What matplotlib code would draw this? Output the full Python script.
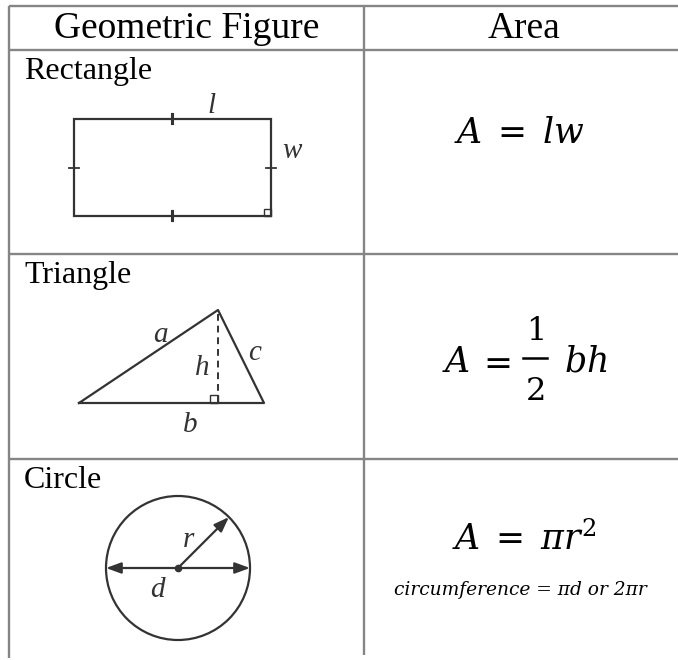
import matplotlib
matplotlib.use("Agg")
import matplotlib.pyplot as plt
from matplotlib.patches import Circle, Rectangle, FancyArrowPatch

plt.rcParams["mathtext.fontset"] = "dejavuserif"

# table layout (pixel grid of the page)
col_x = [9, 364]
row_y = [6, 50, 254, 459]
headers = ["Geometric Figure", "Area"]
row_names = ["Rectangle", "Triangle", "Circle"]
note = "circumference = πd or 2πr"

# rectangle figure
rect_xy = (74, 119)
rect_wh = (197, 97)
# triangle figure
tri_x = [79, 218, 264, 79]
tri_y = [403, 310, 403, 403]
# circle figure
circ_c = (178, 568)
circ_r = 72

# side labels: (text, x, baseline y)
labels = [("l", 212, 113), ("w", 292, 158),
          ("a", 160, 342), ("h", 202, 375), ("c", 255, 360), ("b", 190, 432),
          ("r", 188, 547), ("d", 157, 597)]

W, H = 678, 660
fig = plt.figure(figsize=(W / 100, H / 100), dpi=100)
ax = fig.add_axes([0, 0, 1, 1])
ax.set_xlim(0, W); ax.set_ylim(H, 0); ax.axis("off")

grid = dict(color="#858585", lw=1.7, solid_capstyle="butt")
for y in row_y:
    ax.plot([col_x[0], W], [y, y], **grid)
ax.plot([col_x[0], col_x[0]], [row_y[0], 658], **grid)
ax.plot([col_x[1], col_x[1]], [row_y[0], 655], **grid)

serif = "Liberation Serif"
ax.text(187, 38, headers[0], family=serif, fontsize=27, ha="center", va="baseline")
ax.text(524, 38, headers[1], family=serif, fontsize=27, ha="center", va="baseline")
for i, name in enumerate(row_names):
    ax.text(24, row_y[i + 1] + 29, name, family=serif, fontsize=23, ha="left", va="baseline")

ink = "#333333"
# rectangle with tick marks
x0, y0 = rect_xy; w, h = rect_wh
ax.add_patch(Rectangle(rect_xy, w, h, fill=False, ec=ink, lw=1.6))
xm, ym = x0 + w / 2, y0 + h / 2
for yy in (y0, y0 + h):
    for dx in (-0.9, 0.9):
        ax.plot([xm + dx, xm + dx], [yy - 5, yy + 5], color=ink, lw=1.5)
for xx in (x0, x0 + w):
    ax.plot([xx - 5, xx + 5], [ym, ym], color=ink, lw=1.3)
ax.add_patch(Rectangle((x0 + w - 7, y0 + h - 7), 7, 7, fill=False, ec=ink, lw=1.0))

# triangle with height
ax.plot(tri_x, tri_y, color=ink, lw=1.6)
ax.plot([tri_x[1], tri_x[1]], [tri_y[1] + 4, tri_y[0]], color=ink, lw=1.4, ls=(0, (3.5, 2.5)))
ax.add_patch(Rectangle((tri_x[1] - 8, tri_y[0] - 8), 8, 8, fill=False, ec=ink, lw=1.0))

# circle with radius and diameter
cx, cy = circ_c
ax.add_patch(Circle(circ_c, circ_r, fill=False, ec=ink, lw=1.6))
ax.add_patch(FancyArrowPatch((cx - circ_r, cy), (cx + circ_r, cy),
                             arrowstyle="<|-|>,head_length=6,head_width=2.2", color=ink, lw=1.6,
                             shrinkA=0, shrinkB=0, mutation_scale=1.5))
ax.add_patch(FancyArrowPatch((cx, cy), (cx + circ_r * 0.707, cy - circ_r * 0.707),
                             arrowstyle="-|>,head_length=6,head_width=2.2", color=ink, lw=1.6,
                             shrinkA=0, shrinkB=0, mutation_scale=1.5))
ax.plot(cx, cy, "o", color=ink, ms=4.5)

for t, lx, ly in labels:
    ax.text(lx, ly, t, family=serif, style="italic", fontsize=21, ha="center",
            va="baseline", color=ink)

# area formulas
fs = 25
ax.text(519, 143, r"$A\;=\;lw$", fontsize=fs, ha="center", va="baseline")
# one half b h, built as a stacked fraction
ax.text(442, 372, r"$A$", fontsize=fs, ha="left", va="baseline")
ax.text(494, 372, r"$=$", fontsize=fs, ha="center", va="baseline")
ax.text(535, 340, r"$1$", fontsize=23, ha="center", va="baseline")
ax.plot([523, 547], [358, 358], color="black", lw=1.8)
ax.text(535, 400, r"$2$", fontsize=23, ha="center", va="baseline")
ax.text(564, 372, r"$bh$", fontsize=fs, ha="left", va="baseline")
ax.text(524, 550, r"$A\;=\;\pi r^2$", fontsize=fs, ha="center", va="baseline")
ax.text(520, 595, note, family="DejaVu Serif", style="italic", fontsize=13.4, ha="center",
        va="baseline")

fig.savefig("out.png", dpi=100)
